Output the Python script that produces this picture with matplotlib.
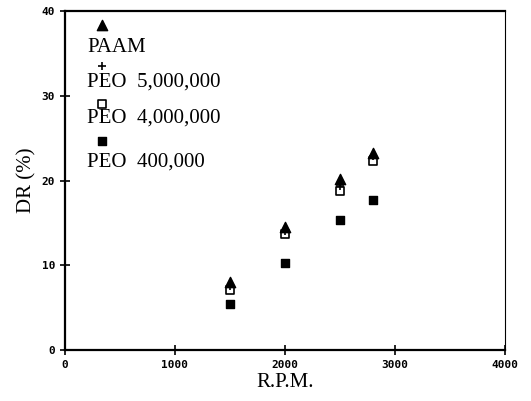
import numpy as np
import matplotlib.pyplot as plt

# R.P.M. values and drag reduction (%)
rpm = [1500, 2000, 2500, 2800]
paam = [8.0, 14.5, 20.2, 23.3]
peo_5m = [7.6, 14.1, 19.4, 22.9]
peo_4m = [7.1, 13.7, 18.8, 22.3]
peo_400k = [5.4, 10.3, 15.4, 17.7]

labels = ["PAAM", "PEO  5,000,000", "PEO  4,000,000", "PEO  400,000"]

serif = "Liberation Serif"

fig = plt.figure(figsize=(5.31, 4.01), dpi=100)
ax = fig.add_axes([0.1224, 0.127, 0.8286, 0.8456])

ax.scatter(rpm, paam, marker="^", s=55, color="black", zorder=3)
ax.scatter(rpm, peo_5m, marker="+", s=40, color="black", linewidths=1.2, zorder=4)
ax.scatter(rpm, peo_4m, marker="s", s=28, facecolor="white", edgecolor="black", linewidths=1.2, zorder=2)
ax.scatter(rpm, peo_400k, marker="s", s=30, color="black", zorder=2)

# legend: marker above its label
tr = ax.transAxes
ax.scatter([0.084], [0.959], marker="^", s=55, color="black", transform=tr, clip_on=False)
ax.scatter([0.084], [0.838], marker="+", s=40, color="black", linewidths=1.2, transform=tr)
ax.scatter([0.084], [0.726], marker="s", s=28, facecolor="white", edgecolor="black", linewidths=1.2, transform=tr)
ax.scatter([0.084], [0.617], marker="s", s=30, color="black", transform=tr)
for lab, y in zip(labels, [0.891, 0.791, 0.684, 0.555]):
    ax.text(0.05, y, lab, transform=tr, fontsize=15, family=serif, va="center", ha="left")

ax.set_xlim(0, 4000)
ax.set_ylim(0, 40)
ax.set_xticks([0, 1000, 2000, 3000, 4000])
ax.set_yticks([0, 10, 20, 30, 40])
ax.tick_params(direction="inout", length=7, width=1.2, labelsize=8)
for t in ax.get_xticklabels() + ax.get_yticklabels():
    t.set_fontweight("bold")
    t.set_family("DejaVu Sans Mono")

ax.set_xlabel("R.P.M.", fontsize=15, family=serif, labelpad=2)
ax.set_ylabel("DR (%)", fontsize=15, family=serif, labelpad=4)

for side in ["left", "bottom", "top"]:
    ax.spines[side].set_linewidth(1.6)
ax.spines["right"].set_linewidth(0.8)

fig.savefig("out.png", dpi=100)
